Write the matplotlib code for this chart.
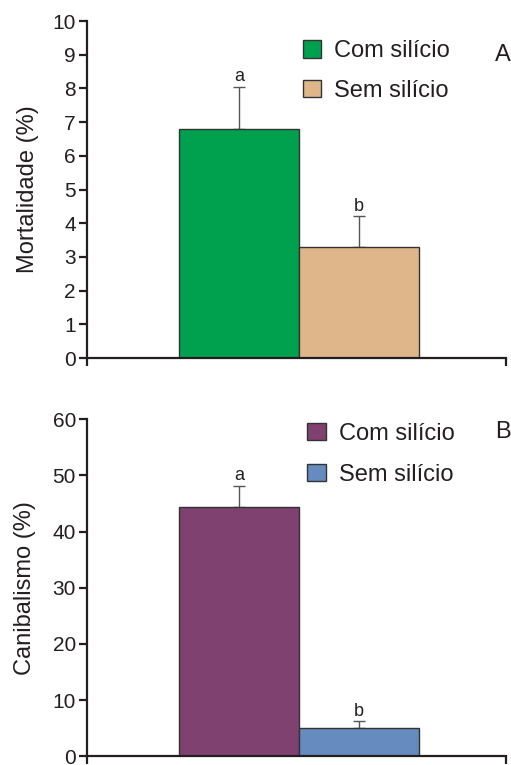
import matplotlib
matplotlib.use("Agg")
import matplotlib.pyplot as plt

plt.rcParams['font.family'] = ['Liberation Sans', 'DejaVu Sans']

labels = ["Com silício", "Sem silício"]

mort_vals = [6.8, 3.3]
mort_err = [1.25, 0.9]
mort_letters = ["a", "b"]
mort_colors = ["#00a14e", "#dfb68a"]

canib_vals = [44.4, 5.1]
canib_err = [3.8, 1.1]
canib_letters = ["a", "b"]
canib_colors = ["#7f4170", "#668bbf"]

fig = plt.figure(figsize=(5.11, 7.65), dpi=100)
ax1 = fig.add_axes([0.1703, 0.532, 0.8197, 0.4405])
ax2 = fig.add_axes([0.1703, 0.0114, 0.8197, 0.4405])

xpos = [0, 1]
xl = (-1.267, 2.225)


def panel(ax, vals, err, letters, colors, ymax, ystep, ylabel, ypad, tag, tag_y,
          leg_x, leg_y, leg_sp):
    bars = ax.bar(xpos, vals, width=1.0, color=colors, edgecolor="#333333",
                  linewidth=1.0, zorder=2)
    ax.errorbar(xpos, vals, yerr=[[0, 0], err], fmt="none", ecolor="#555555",
                elinewidth=1.0, capsize=4, capthick=1.0, zorder=1)
    for x, v, e, t in zip(xpos, vals, err, letters):
        ax.text(x, v + e + ymax * 0.004, t, ha="center", va="bottom", fontsize=13,
                color="#231f20")
    ax.set_xlim(*xl)
    ax.set_ylim(0, ymax)
    ax.set_yticks(range(0, ymax + 1, ystep))
    ax.set_xticks(xl)
    ax.set_xticklabels([])
    for s in ["top", "right"]:
        ax.spines[s].set_visible(False)
    for s in ["left", "bottom"]:
        ax.spines[s].set_linewidth(1.6)
        ax.spines[s].set_color("#231f20")
    ax.tick_params(axis="both", direction="out", length=6, width=1.6,
                   color="#231f20", labelsize=15, labelcolor="#231f20", pad=2)
    ax.set_ylabel(ylabel, fontsize=17, color="#231f20", labelpad=ypad)
    ax.legend(bars, labels, loc="upper left", bbox_to_anchor=(leg_x, leg_y),
              frameon=False, fontsize=17, handlelength=0.78, handleheight=0.78,
              handletextpad=0.55, labelspacing=leg_sp, borderpad=0,
              borderaxespad=0, labelcolor="#231f20")
    ax.text(1.012, tag_y, tag, transform=ax.transAxes, ha="right", va="center",
            fontsize=17, color="#231f20")


panel(ax1, mort_vals, mort_err, mort_letters, mort_colors, 10, 1,
      "Mortalidade (%)", 9.5, "A", 0.899, 0.515, 0.943, 0.73)
panel(ax2, canib_vals, canib_err, canib_letters, canib_colors, 60, 10,
      "Canibalismo (%)", 12, "B", 0.962, 0.526, 0.99, 0.8)

fig.savefig("out.png", dpi=100)
